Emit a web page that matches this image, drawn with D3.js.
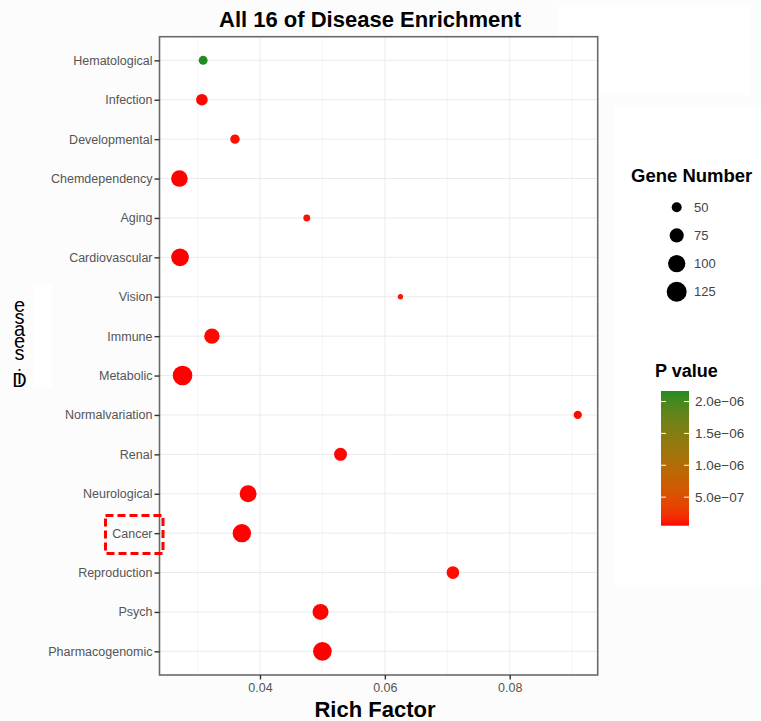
<!DOCTYPE html>
<html>
<head>
<meta charset="utf-8">
<script src="https://cdn.jsdelivr.net/npm/d3@7"></script>
<style>
  html, body { margin: 0; padding: 0; background: #fcfcfc; }
  svg { display: block; font-family: "Liberation Sans", Arial, sans-serif; }
</style>
</head>
<body>
<svg id="chart" width="761" height="721"></svg>
<script>
// Disease categories, top to bottom
const categories = [
  "Hematological", "Infection", "Developmental", "Chemdependency", "Aging",
  "Cardiovascular", "Vision", "Immune", "Metabolic", "Normalvariation",
  "Renal", "Neurological", "Cancer", "Reproduction", "Psych", "Pharmacogenomic"
];
// Rich factor per category
const richFactor = [
  0.0309, 0.0307, 0.0360, 0.0271, 0.0475,
  0.0272, 0.0625, 0.0323, 0.0276, 0.0909,
  0.0529, 0.0381, 0.0371, 0.0709, 0.0497, 0.0500
];
// Number of genes per category
const geneNumber = [
  45, 59, 47, 94, 37,
  103, 32, 84, 121, 42,
  67, 97, 109, 65, 89, 112
];
// Enrichment p values
const pValue = [
  2.165e-6, 6.0e-8, 8.0e-8, 5.5e-8, 9.0e-8,
  5.2e-8, 1.0e-7, 6.5e-8, 5.3e-8, 7.0e-8,
  6.0e-8, 5.6e-8, 5.4e-8, 7.5e-8, 5.8e-8, 5.2e-8
];
const xTicks = [0.04, 0.06, 0.08];
const xMinorTicks = [0.03, 0.05, 0.07, 0.09];
const sizeTicks = [50, 75, 100, 125];
const pTicks = [5e-7, 1e-6, 1.5e-6, 2e-6];

const svg = d3.select("#chart");

// faint white patches on the page background
svg.append("rect").attr("x", 33).attr("y", 285).attr("width", 19).attr("height", 103).attr("fill", "#ffffff");
svg.append("rect").attr("x", 558).attr("y", 5).attr("width", 192).attr("height", 90).attr("fill", "#ffffff");
svg.append("rect").attr("x", 613).attr("y", 105).attr("width", 148).attr("height", 480).attr("fill", "#ffffff");

const panel = { left: 159.5, right: 597.7, top: 36.7, bottom: 675 };

// x scale with 5% expansion around the data
const [xmin, xmax] = d3.extent(richFactor);
const pad = (xmax - xmin) * 0.05;
const x = d3.scaleLinear().domain([xmin - pad, xmax + pad]).range([panel.left, panel.right]);
const y = d3.scalePoint().domain(categories).range([panel.top, panel.bottom]).padding(0.6);

// point area grows linearly with gene number
const area = d3.scaleLinear().domain([25, 125]).range([0, 100]);
const radius = v => Math.sqrt(Math.max(0, area(v)));

const [pmin, pmax] = d3.extent(pValue);
const color = d3.scaleLinear().domain([pmin, pmax]).range(["#ff0000", "#228b22"]).interpolate(d3.interpolateLab);

// panel background
svg.append("rect")
  .attr("x", panel.left).attr("y", panel.top)
  .attr("width", panel.right - panel.left).attr("height", panel.bottom - panel.top)
  .attr("fill", "#ffffff");

// grid
const grid = svg.append("g");
grid.selectAll("line.minor").data(xMinorTicks).join("line")
  .attr("x1", d => x(d)).attr("x2", d => x(d))
  .attr("y1", panel.top).attr("y2", panel.bottom)
  .attr("stroke", "#f2f2f2").attr("stroke-width", 0.8);
grid.selectAll("line.major").data(xTicks).join("line")
  .attr("x1", d => x(d)).attr("x2", d => x(d))
  .attr("y1", panel.top).attr("y2", panel.bottom)
  .attr("stroke", "#ebebeb").attr("stroke-width", 1);
grid.selectAll("line.h").data(categories).join("line")
  .attr("x1", panel.left).attr("x2", panel.right)
  .attr("y1", d => y(d)).attr("y2", d => y(d))
  .attr("stroke", "#ebebeb").attr("stroke-width", 1);

// points
const rows = categories.map((c, i) => ({ c, rf: richFactor[i], n: geneNumber[i], p: pValue[i] }));
svg.append("g").selectAll("circle").data(rows).join("circle")
  .attr("cx", d => x(d.rf)).attr("cy", d => y(d.c))
  .attr("r", d => radius(d.n))
  .attr("fill", d => color(d.p));

// panel border
svg.append("rect")
  .attr("x", panel.left).attr("y", panel.top)
  .attr("width", panel.right - panel.left).attr("height", panel.bottom - panel.top)
  .attr("fill", "none").attr("stroke", "#6a6a6a").attr("stroke-width", 1.6);

// axes
const xAxis = svg.append("g")
  .attr("transform", `translate(0,${panel.bottom})`)
  .call(d3.axisBottom(x).tickValues(xTicks).tickFormat(d3.format(".2f")).tickSize(4.5).tickPadding(4));
const yAxis = svg.append("g")
  .attr("transform", `translate(${panel.left},0)`)
  .call(d3.axisLeft(y).tickSize(5).tickPadding(2));
[xAxis, yAxis].forEach(a => {
  a.select(".domain").remove();
  a.selectAll(".tick line").attr("stroke", "#333").attr("stroke-width", 1.4);
  a.selectAll(".tick text").attr("fill", "#555").attr("font-size", 12.5)
    .attr("font-family", "Liberation Sans, Arial, sans-serif");
});

// title and x-axis title
svg.append("text").attr("x", 370).attr("y", 27).attr("text-anchor", "middle")
  .attr("font-size", 22).attr("font-weight", "bold").attr("fill", "#000")
  .text("All 16 of Disease Enrichment");
svg.append("text").attr("x", 375).attr("y", 717).attr("text-anchor", "middle")
  .attr("font-size", 22).attr("font-weight", "bold").attr("fill", "#000")
  .text("Rich Factor");

// y-axis title: upright glyphs stacked upward from the bottom, tightly packed
const yTitle = "Disease";
const glyphRise = [0, 3, 27, 39, 51, 63, 75];
svg.append("text")
  .attr("x", Array.from(yTitle, () => 19.5).join(" "))
  .attr("y", glyphRise.map(d => 387 - d).join(" "))
  .attr("text-anchor", "middle")
  .attr("font-size", 20).attr("fill", "#000")
  .text(yTitle);

// dashed highlight around the Cancer label
svg.append("rect").attr("x", 105.5).attr("y", 515.5).attr("width", 57.5).attr("height", 38)
  .attr("fill", "none").attr("stroke", "#ff0000").attr("stroke-width", 3)
  .attr("stroke-dasharray", "8,4");

// size legend
const sl = svg.append("g");
sl.append("text").attr("x", 631).attr("y", 182).attr("font-size", 18.5).attr("font-weight", "bold")
  .attr("fill", "#000").text("Gene Number");
const sizeY = d3.scalePoint().domain(sizeTicks).range([207.3, 291.7]);
sl.selectAll("circle").data(sizeTicks).join("circle")
  .attr("cx", 676.7).attr("cy", d => sizeY(d)).attr("r", d => radius(d)).attr("fill", "#000");
sl.selectAll("text.lab").data(sizeTicks).join("text").attr("class", "lab")
  .attr("x", 694).attr("y", d => sizeY(d) + 4.5).attr("font-size", 13).attr("fill", "#444")
  .text(d => d);

// colour bar legend
const cl = svg.append("g");
cl.append("text").attr("x", 655).attr("y", 377).attr("font-size", 18).attr("font-weight", "bold")
  .attr("fill", "#000").text("P value");
const cb = d3.scaleLinear().domain([pmin, pmax]).range([525.7, 391]);
const defs = svg.append("defs");
const grad = defs.append("linearGradient").attr("id", "pgrad")
  .attr("x1", 0).attr("y1", 1).attr("x2", 0).attr("y2", 0);
d3.range(0, 1.0001, 0.05).forEach(t => {
  grad.append("stop").attr("offset", t).attr("stop-color", color(pmin + t * (pmax - pmin)));
});
cl.append("rect").attr("x", 661).attr("y", cb(pmax)).attr("width", 28)
  .attr("height", cb(pmin) - cb(pmax)).attr("fill", "url(#pgrad)");
pTicks.forEach(t => {
  cl.append("line").attr("x1", 661).attr("x2", 666).attr("y1", cb(t)).attr("y2", cb(t))
    .attr("stroke", "#ffffff").attr("stroke-width", 1);
  cl.append("line").attr("x1", 684).attr("x2", 689).attr("y1", cb(t)).attr("y2", cb(t))
    .attr("stroke", "#ffffff").attr("stroke-width", 1);
});
cl.selectAll("text.lab").data(pTicks).join("text").attr("class", "lab")
  .attr("x", 695).attr("y", d => cb(d) + 4.5).attr("font-size", 13.5).attr("fill", "#444")
  .text(d => {
    const [m, e] = d.toExponential(1).split("e");
    const ex = parseInt(e, 10);
    return `${m}e${ex < 0 ? "\u2212" : "+"}${String(Math.abs(ex)).padStart(2, "0")}`;
  });
</script>
</body>
</html>
